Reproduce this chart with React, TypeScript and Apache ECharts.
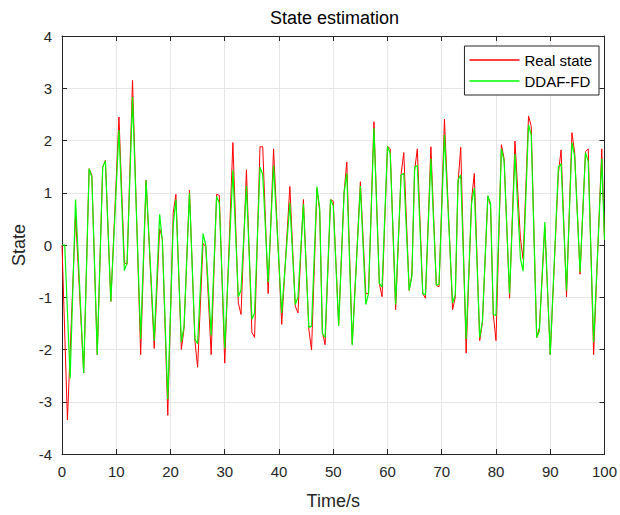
import React, { useEffect, useRef } from "react";
import * as echarts from "echarts";

const realT = [0, 1, 2.5, 4, 5, 5.5, 6.5, 7.5, 8, 9, 10.5, 11.5, 12, 13, 14.5, 15.5, 17, 18, 18.5, 19.5, 20.5, 21, 22, 22.5, 23.5, 24.5, 25, 26, 26.5, 27.5, 28.5, 29, 30, 31.5, 32.5, 33, 34, 35, 35.5, 36.5, 37, 38, 39, 40.5, 42, 43, 43.5, 44.5, 45.5, 46, 47, 47.5, 48, 48.5, 49.5, 50, 51, 52, 52.5, 53.5, 55, 56, 56.5, 57.5, 58.5, 59, 60, 60.5, 61.5, 62.5, 63, 64, 64.5, 65, 65.5, 66.5, 67, 68, 69, 69.5, 70.5, 72, 72.5, 73, 73.5, 74.5, 75.5, 76, 77, 77.5, 78.5, 79, 79.5, 80, 81, 81.5, 82.5, 83.5, 84.5, 85, 86, 86.5, 87.5, 88, 89, 90, 91.5, 92, 93, 94, 94.5, 95.5, 96.5, 97, 98, 99.5, 100];
const realV = [0, -3.35, 0.56, -2.45, 1.46, 1.34, -2.1, 1.49, 1.62, -1.08, 2.45, -0.34, -0.37, 3.15, -2.1, 1.24, -1.98, 0.31, 0.13, -3.26, 0.62, 0.97, -2.0, -1.6, 1.05, -1.83, -2.34, 0.03, -0.03, -2.1, 0.97, 0.95, -2.26, 1.96, -1.11, -1.33, 1.44, -1.67, -1.77, 1.88, 1.88, -0.93, 1.84, -1.52, 1.12, -1.17, -1.3, 0.87, -1.61, -2.01, 1.08, 0.65, -1.67, -1.91, 0.87, 0.84, -1.52, 1.01, 1.59, -1.89, 1.21, -0.93, -0.93, 2.36, -0.74, -0.99, 1.89, 1.84, -1.24, 1.34, 1.77, -0.87, -0.56, 1.43, 1.84, -0.93, -1.02, 1.88, -0.77, -0.8, 2.41, -1.24, -1.0, 1.18, 1.87, -2.07, 0.87, 1.37, -1.83, -1.49, 0.94, 0.75, -1.33, -1.83, 1.92, 1.65, -1.02, 1.99, 0.13, -0.27, 2.47, 2.27, -1.77, -1.58, 0.35, -2.1, 1.37, 1.82, -0.99, 2.15, 1.77, -0.56, 1.79, 1.84, -2.1, 1.84, 0.1];

const estT = [0, 0.5, 1.5, 2.5, 4, 5, 5.5, 6.5, 7.5, 8, 9, 10.5, 11.5, 12, 13, 14.5, 15.5, 17, 18, 18.5, 19.5, 20.5, 21, 22, 22.5, 23.5, 24.5, 25, 26, 26.5, 27.5, 28.5, 29, 30, 31.5, 32.5, 33, 34, 35, 35.5, 36.5, 37, 38, 39, 40.5, 42, 43, 43.5, 44.5, 45.5, 46, 47, 47.5, 48, 48.5, 49.5, 50, 51, 52, 52.5, 53.5, 55, 56, 56.5, 57.5, 58.5, 59, 60, 60.5, 61.5, 62.5, 63, 64, 64.5, 65, 65.5, 66.5, 67, 68, 69, 69.5, 70.5, 72, 72.5, 73, 73.5, 74.5, 75.5, 76, 77, 77.5, 78.5, 79, 79.5, 80, 81, 81.5, 82.5, 83.5, 84.5, 85, 86, 86.5, 87.5, 88, 89, 90, 91.5, 92, 93, 94, 94.5, 95.5, 96.5, 97, 98, 99.5, 100];
const estV = [0, 0, -2.55, 0.87, -2.45, 1.46, 1.3, -2.1, 1.49, 1.61, -1.08, 2.2, -0.49, -0.34, 2.83, -1.8, 1.24, -1.83, 0.59, 0.07, -2.95, 0.38, 0.87, -1.86, -1.55, 1.0, -1.8, -1.89, 0.22, 0, -1.73, 0.93, 0.8, -1.98, 1.43, -0.99, -0.86, 1.13, -1.42, -1.3, 1.49, 1.35, -0.71, 1.52, -1.3, 0.81, -1.14, -1.0, 0.78, -1.58, -1.55, 1.12, 0.7, -1.7, -1.77, 0.87, 0.75, -1.55, 1.0, 1.37, -1.92, 1.13, -1.14, -0.93, 2.24, -0.74, -0.8, 1.89, 1.75, -1.14, 1.34, 1.37, -0.87, -0.6, 1.49, 1.52, -0.93, -0.95, 1.65, -0.77, -0.75, 2.11, -1.11, -0.95, 1.24, 1.34, -1.8, 0.8, 1.09, -1.77, -1.45, 0.94, 0.8, -1.33, -1.35, 1.84, 1.6, -0.93, 1.74, -0.25, -0.5, 2.3, 2.1, -1.77, -1.65, 0.44, -2.1, 1.49, 1.56, -0.87, 1.96, 1.7, -0.52, 1.77, 1.6, -1.86, 1.65, 0.1];

const seriesNames = ["Real state", "DDAF-FD"];
const titleText = "State estimation";
const xName = "Time/s";
const yName = "State";

const FONT = "Arial, 'Liberation Sans', sans-serif";
const AX = "#262626";

export default function App() {
  const ref = useRef<HTMLDivElement>(null);
  useEffect(() => {
    if (!ref.current) return;
    const chart = echarts.init(ref.current, undefined, { renderer: "svg" });
    const gridL = 62, gridR = 13, gridT = 36, gridB = 50;
    const axisCommon = {
      axisLine: { show: true, onZero: false, lineStyle: { color: AX, width: 1 } },
      axisTick: { show: true, inside: true, length: 5, lineStyle: { color: AX } },
    };
    chart.setOption({
      animation: false,
      backgroundColor: "#ffffff",
      textStyle: { fontFamily: FONT },
      grid: { left: gridL, right: gridR, top: gridT, bottom: gridB, containLabel: false },
      graphic: [
        {
          type: "text",
          x: gridL + (620 - gridL - gridR) / 2,
          y: 9,
          style: { text: titleText, fontSize: 18, fontFamily: FONT, fill: "#000", textAlign: "center" },
        },
      ],
      legend: {
        data: seriesNames,
        orient: "vertical",
        right: 21,
        top: 46,
        icon: "rect",
        itemWidth: 50,
        itemHeight: 1.3,
        itemGap: 5,
        padding: [6, 7, 6, 5],
        borderColor: AX,
        borderWidth: 1,
        borderRadius: 0,
        backgroundColor: "#ffffff",
        textStyle: { fontSize: 15, color: "#000", fontFamily: FONT, lineHeight: 16 },
      },
      xAxis: [
        {
          type: "value",
          min: 0,
          max: 100,
          interval: 10,
          position: "bottom",
          ...axisCommon,
          axisLabel: { color: AX, fontSize: 15, margin: 10, fontFamily: FONT },
          splitLine: { show: true, lineStyle: { color: "#e6e6e6", width: 1 } },
          name: xName,
          nameLocation: "middle",
          nameGap: 38,
          nameTextStyle: { fontSize: 18, color: AX, fontFamily: FONT },
        },
        {
          type: "value",
          min: 0,
          max: 100,
          interval: 10,
          position: "top",
          ...axisCommon,
          axisLabel: { show: false },
          splitLine: { show: false },
        },
      ],
      yAxis: [
        {
          type: "value",
          min: -4,
          max: 4,
          interval: 1,
          position: "left",
          ...axisCommon,
          axisLabel: { color: AX, fontSize: 15, margin: 10, fontFamily: FONT },
          splitLine: { show: true, lineStyle: { color: "#e6e6e6", width: 1 } },
          name: yName,
          nameLocation: "middle",
          nameGap: 25,
          nameTextStyle: { fontSize: 18, color: AX, fontFamily: FONT },
        },
        {
          type: "value",
          min: -4,
          max: 4,
          interval: 1,
          position: "right",
          ...axisCommon,
          axisLabel: { show: false },
          splitLine: { show: false },
        },
      ],
      series: [
        {
          name: seriesNames[0],
          type: "line",
          data: realT.map((t, i) => [t, realV[i]]),
          symbol: "none",
          lineStyle: { color: "#ff0000", width: 1 },
          itemStyle: { color: "#ff0000" },
        },
        {
          name: seriesNames[1],
          type: "line",
          data: estT.map((t, i) => [t, estV[i]]),
          symbol: "none",
          lineStyle: { color: "#00ff00", width: 1.2 },
          itemStyle: { color: "#00ff00" },
        },
      ],
    });
    return () => chart.dispose();
  }, []);
  return (
    <div
      ref={ref}
      style={{ position: "fixed", left: 0, top: 0, width: 620, height: 515 }}
    />
  );
}
